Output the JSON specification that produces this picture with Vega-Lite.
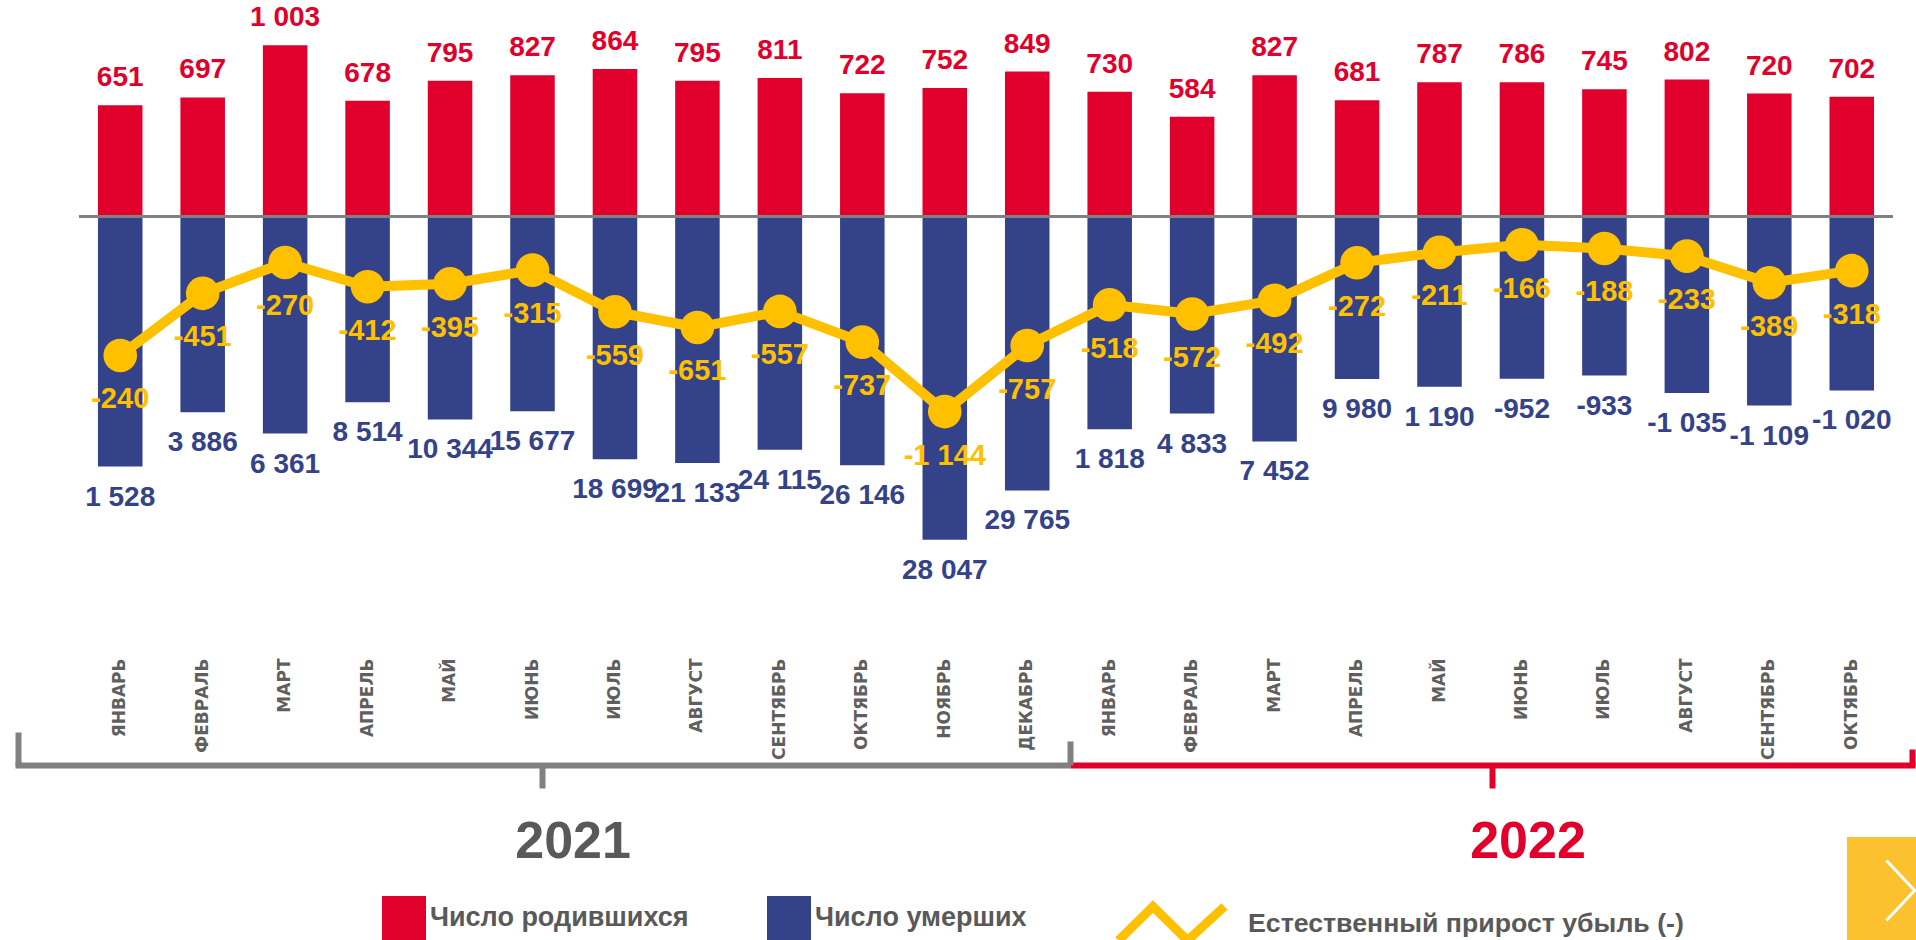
{
  "$schema": "https://vega.github.io/schema/vega-lite/v6.json",
  "width": 1814,
  "height": 640,
  "autosize": {"type": "none"},
  "padding": {"left": 79, "top": 0, "right": 23, "bottom": 300},
  "background": "white",
  "config": {"view": {"stroke": null}, "font": "Liberation Sans", "axis": {"grid": false}},
  "data": {"values": [
    {"key": "ЯНВАРЬ 2021", "year": "2021", "births": 651, "deaths": -1466, "increase": -815, "bl": "651", "dl": "1 528", "il": "-240"},
    {"key": "ФЕВРАЛЬ 2021", "year": "2021", "births": 697, "deaths": -1148, "increase": -451, "bl": "697", "dl": "3 886", "il": "-451"},
    {"key": "МАРТ 2021", "year": "2021", "births": 1003, "deaths": -1273, "increase": -270, "bl": "1 003", "dl": "6 361", "il": "-270"},
    {"key": "АПРЕЛЬ 2021", "year": "2021", "births": 678, "deaths": -1090, "increase": -412, "bl": "678", "dl": "8 514", "il": "-412"},
    {"key": "МАЙ 2021", "year": "2021", "births": 795, "deaths": -1190, "increase": -395, "bl": "795", "dl": "10 344", "il": "-395"},
    {"key": "ИЮНЬ 2021", "year": "2021", "births": 827, "deaths": -1142, "increase": -315, "bl": "827", "dl": "15 677", "il": "-315"},
    {"key": "ИЮЛЬ 2021", "year": "2021", "births": 864, "deaths": -1423, "increase": -559, "bl": "864", "dl": "18 699", "il": "-559"},
    {"key": "АВГУСТ 2021", "year": "2021", "births": 795, "deaths": -1446, "increase": -651, "bl": "795", "dl": "21 133", "il": "-651"},
    {"key": "СЕНТЯБРЬ 2021", "year": "2021", "births": 811, "deaths": -1368, "increase": -557, "bl": "811", "dl": "24 115", "il": "-557"},
    {"key": "ОКТЯБРЬ 2021", "year": "2021", "births": 722, "deaths": -1459, "increase": -737, "bl": "722", "dl": "26 146", "il": "-737"},
    {"key": "НОЯБРЬ 2021", "year": "2021", "births": 752, "deaths": -1896, "increase": -1144, "bl": "752", "dl": "28 047", "il": "-1 144"},
    {"key": "ДЕКАБРЬ 2021", "year": "2021", "births": 849, "deaths": -1606, "increase": -757, "bl": "849", "dl": "29 765", "il": "-757"},
    {"key": "ЯНВАРЬ 2022", "year": "2022", "births": 730, "deaths": -1248, "increase": -518, "bl": "730", "dl": "1 818", "il": "-518"},
    {"key": "ФЕВРАЛЬ 2022", "year": "2022", "births": 584, "deaths": -1156, "increase": -572, "bl": "584", "dl": "4 833", "il": "-572"},
    {"key": "МАРТ 2022", "year": "2022", "births": 827, "deaths": -1319, "increase": -492, "bl": "827", "dl": "7 452", "il": "-492"},
    {"key": "АПРЕЛЬ 2022", "year": "2022", "births": 681, "deaths": -953, "increase": -272, "bl": "681", "dl": "9 980", "il": "-272"},
    {"key": "МАЙ 2022", "year": "2022", "births": 787, "deaths": -998, "increase": -211, "bl": "787", "dl": "1 190", "il": "-211"},
    {"key": "ИЮНЬ 2022", "year": "2022", "births": 786, "deaths": -952, "increase": -166, "bl": "786", "dl": "-952", "il": "-166"},
    {"key": "ИЮЛЬ 2022", "year": "2022", "births": 745, "deaths": -933, "increase": -188, "bl": "745", "dl": "-933", "il": "-188"},
    {"key": "АВГУСТ 2022", "year": "2022", "births": 802, "deaths": -1035, "increase": -233, "bl": "802", "dl": "-1 035", "il": "-233"},
    {"key": "СЕНТЯБРЬ 2022", "year": "2022", "births": 720, "deaths": -1109, "increase": -389, "bl": "720", "dl": "-1 109", "il": "-389"},
    {"key": "ОКТЯБРЬ 2022", "year": "2022", "births": 702, "deaths": -1020, "increase": -318, "bl": "702", "dl": "-1 020", "il": "-318"}
  ]},
  "layer": [
    {
      "encoding": {
        "x": {
          "field": "key", "type": "nominal", "sort": null,
          "scale": {"paddingInner": 0.46, "paddingOuter": 0.23},
          "axis": {
            "orient": "bottom", "title": null, "labelExpr": "split(datum.label, ' ')[0]",
            "labelAngle": -90, "labelAlign": "right", "labelBaseline": "middle",
            "labelPadding": 18, "ticks": false, "tickSize": 0, "domain": false,
            "labelFontSize": 17, "labelFontWeight": "bold", "labelColor": "#5f5f5f",
            "labelFont": "DejaVu Sans", "labelLimit": 300, "labelOverlap": false
          }
        }
      },
      "layer": [
        {
          "mark": {"type": "bar"},
          "encoding": {
            "y": {"field": "births", "type": "quantitative", "scale": {"domain": [-2483, 1268.5], "nice": false, "zero": false}, "axis": null},
            "color": {
              "datum": "Число родившихся", "type": "nominal",
              "scale": {"domain": ["Число родившихся", "Число умерших"], "range": ["#E1002B", "#344289"]},
              "legend": {
                "title": null, "orient": "none", "legendX": 303, "legendY": 896, "direction": "horizontal",
                "symbolType": "square", "symbolSize": 1936, "symbolStrokeWidth": 0,
                "labelFontSize": 27, "labelFontWeight": "bold", "labelColor": "#595959", "labelFont": "Liberation Sans",
                "labelLimit": 500, "columnPadding": 78, "padding": 0, "labelOffset": 4
              }
            }
          }
        },
        {
          "mark": {"type": "bar"},
          "encoding": {
            "y": {"field": "deaths", "type": "quantitative"},
            "color": {"datum": "Число умерших", "type": "nominal"}
          }
        },
        {
          "mark": {"type": "line", "strokeWidth": 10, "strokeJoin": "round"},
          "encoding": {
            "y": {"field": "increase", "type": "quantitative"},
            "stroke": {
              "datum": "Естественный прирост убыль (-)", "type": "nominal",
              "scale": {"range": ["#FFC000"]},
              "legend": {
                "title": null, "orient": "none", "legendX": 1035, "legendY": 866,
                "symbolType": "M-1,0.32L-0.35,-0.32L0.3,0.32L1,-0.32", "symbolSize": 11236,
                "symbolStrokeWidth": 9, "symbolFillColor": "transparent", "symbolStrokeColor": "#FFD347",
                "labelFontSize": 26.7, "labelFontWeight": "bold", "labelColor": "#595959", "labelFont": "Liberation Sans",
                "labelLimit": 600, "padding": 0, "labelOffset": 19,
                "encode": {"symbols": {"update": {"stroke": {"value": "#FFD347"}, "fill": {"value": "transparent"}}}}
              }
            }
          }
        },
        {
          "mark": {"type": "circle", "size": 1130, "color": "#FFC000", "opacity": 1},
          "encoding": {"y": {"field": "increase", "type": "quantitative"}}
        },
        {
          "mark": {"type": "text", "fontSize": 28, "fontWeight": "bold", "color": "#E1002B", "baseline": "alphabetic", "dy": -19, "font": "Liberation Sans"},
          "encoding": {"y": {"field": "births", "type": "quantitative"}, "text": {"field": "bl"}}
        },
        {
          "mark": {"type": "text", "fontSize": 28, "fontWeight": "bold", "color": "#344289", "baseline": "top", "dy": 17, "font": "Liberation Sans"},
          "encoding": {"y": {"field": "deaths", "type": "quantitative"}, "text": {"field": "dl"}}
        },
        {
          "mark": {"type": "text", "fontSize": 29, "fontWeight": "bold", "color": "#FFC000", "baseline": "top", "dy": 30, "font": "Liberation Sans"},
          "encoding": {"y": {"field": "increase", "type": "quantitative"}, "text": {"field": "il"}}
        }
      ]
    },
    {
      "data": {"values": [{}]},
      "mark": {"type": "rule", "color": "#808080", "strokeWidth": 3},
      "encoding": {"y": {"datum": 0, "type": "quantitative"}}
    },
    {
      "transform": [{"filter": "datum.year === '2021'"}],
      "mark": {"type": "point", "opacity": 0},
      "encoding": {
        "x": {
          "field": "key", "type": "nominal", "sort": null,
          "scale": {"type": "band", "range": [-64, 991], "paddingInner": 0, "paddingOuter": 0},
          "axis": {
            "orient": "bottom", "offset": 125, "domain": true, "domainColor": "#808080", "domainWidth": 6, "domainCap": "butt",
            "labels": false, "ticks": true, "values": ["ИЮЛЬ 2021"], "bandPosition": 0,
            "tickSize": 23, "tickWidth": 6, "tickColor": "#808080", "grid": false,
            "title": "2021", "titleFontSize": 52, "titleFontWeight": "bold", "titleColor": "#595959", "titleFont": "Liberation Sans",
            "titleX": 493.6, "titleY": 92, "titleAlign": "center", "titleBaseline": "alphabetic"
          }
        }
      }
    },
    {
      "transform": [{"filter": "datum.year === '2022'"}],
      "mark": {"type": "point", "opacity": 0},
      "encoding": {
        "x": {
          "field": "key", "type": "nominal", "sort": null,
          "scale": {"type": "band", "range": [991, 1836], "paddingInner": 0, "paddingOuter": 0},
          "axis": {
            "orient": "bottom", "offset": 125, "domain": true, "domainColor": "#E1002B", "domainWidth": 6, "domainCap": "butt",
            "labels": false, "ticks": true, "values": ["ИЮНЬ 2022"], "bandPosition": 0,
            "tickSize": 23, "tickWidth": 6, "tickColor": "#E1002B", "grid": false,
            "title": "2022", "titleFontSize": 52, "titleFontWeight": "bold", "titleColor": "#E1002B", "titleFont": "Liberation Sans",
            "titleX": 1448.5, "titleY": 92, "titleAlign": "center", "titleBaseline": "alphabetic"
          }
        }
      }
    },
    {
      "transform": [{"filter": "datum.year === '2021'"}],
      "mark": {"type": "point", "opacity": 0},
      "encoding": {
        "x": {
          "field": "key", "type": "nominal", "sort": null,
          "scale": {"type": "band", "range": [-64, 991], "paddingInner": 0, "paddingOuter": 0},
          "axis": {
            "orient": "bottom", "offset": 125, "domain": false, "labels": false, "ticks": true,
            "values": ["ЯНВАРЬ 2021"], "bandPosition": 0, "tickOffset": 3,
            "tickSize": -33, "tickWidth": 6, "tickColor": "#808080", "grid": false, "title": null
          }
        }
      }
    },
    {
      "transform": [{"filter": "datum.year === '2022'"}],
      "mark": {"type": "point", "opacity": 0},
      "encoding": {
        "x": {
          "field": "key", "type": "nominal", "sort": null,
          "scale": {"type": "band", "range": [991, 1836], "paddingInner": 0, "paddingOuter": 0},
          "axis": {
            "orient": "bottom", "offset": 125, "domain": false, "labels": false, "ticks": true,
            "values": ["ЯНВАРЬ 2022"], "bandPosition": 0,
            "tickSize": -24, "tickWidth": 6, "tickColor": "#808080", "grid": false, "title": null
          }
        }
      }
    },
    {
      "transform": [{"filter": "datum.year === '2022'"}],
      "mark": {"type": "point", "opacity": 0},
      "encoding": {
        "x": {
          "field": "key", "type": "nominal", "sort": null,
          "scale": {"type": "band", "range": [991, 1836], "paddingInner": 0, "paddingOuter": 0},
          "axis": {
            "orient": "bottom", "offset": 125, "domain": false, "labels": false, "ticks": true,
            "values": ["ОКТЯБРЬ 2022"], "bandPosition": 1, "tickOffset": -3,
            "tickSize": -16, "tickWidth": 6, "tickColor": "#E1002B", "grid": false, "title": null
          }
        }
      }
    },
    {
      "data": {"values": [{}]},
      "mark": {"type": "point", "size": 0, "filled": false, "color": "white"},
      "encoding": {
        "shape": {
          "datum": "next", "type": "nominal",
          "scale": {"range": ["M-0.47,-1L0.47,0L-0.47,1"]},
          "legend": {
            "title": null, "orient": "none", "legendX": 1768, "legendY": 837,
            "fillColor": "#FCC12E", "padding": 22, "labelExpr": "''", "labelOffset": 0, "labelFontSize": 1,
            "symbolSize": 3600, "symbolStrokeWidth": 3, "symbolStrokeColor": "white", "symbolFillColor": "transparent", "symbolOpacity": 1,
            "encode": {"symbols": {"update": {"stroke": {"value": "white"}, "fill": {"value": "transparent"}, "opacity": {"value": 1}, "strokeWidth": {"value": 3}}}}
          }
        }
      }
    }
  ],
  "resolve": {"scale": {"x": "independent"}, "axis": {"x": "independent"}}
}
